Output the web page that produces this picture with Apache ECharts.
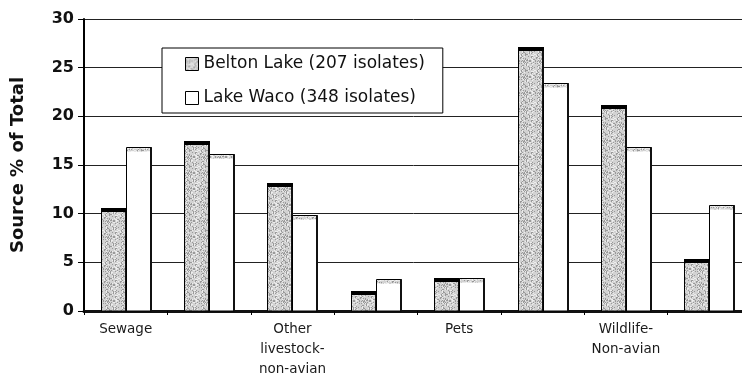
<!DOCTYPE html>
<html>
<head>
<meta charset="utf-8">
<script src="https://cdn.jsdelivr.net/npm/echarts@6/dist/echarts.min.js"></script>
<style>
  html, body { margin: 0; padding: 0; background: #fff; }
  #chart { width: 742px; height: 378px; }
</style>
</head>
<body>
<div id="chart"></div>
<script>
// Source categories (only every other group carries a printed label)
const categories = ['Sewage', ' ', 'Other\nlivestock-\nnon-avian', '  ', 'Pets', '   ', 'Wildlife-\nNon-avian', '    '];
const beltonName = 'Belton Lake (207 isolates)';
const wacoName = 'Lake Waco (348 isolates)';
// Source % of total isolates
const beltonValues = [10.6, 17.5, 13.1, 2.1, 3.4, 27.1, 21.2, 5.3];
const wacoValues = [16.8, 16.1, 9.9, 3.3, 3.4, 23.4, 16.8, 10.9];
const yMin = 0, yMax = 30, yStep = 5;

// Stippled grey fill, built from a small fixed tile
function makeStipple() {
  const c = document.createElement('canvas');
  c.width = 16; c.height = 16;
  const ctx = c.getContext('2d');
  ctx.fillStyle = '#d2d2d2';
  ctx.fillRect(0, 0, 16, 16);
  let s = 12345;
  for (let y = 0; y < 16; y++) {
    for (let x = 0; x < 16; x++) {
      s = (s * 1103515245 + 12345) & 0x7fffffff;
      const r = (s >> 8) % 100;
      if (r < 22) { ctx.fillStyle = '#9a9a9a'; ctx.fillRect(x, y, 1, 1); }
      else if (r < 40) { ctx.fillStyle = '#ededed'; ctx.fillRect(x, y, 1, 1); }
    }
  }
  return { image: c, repeat: 'repeat' };
}
const stipple = makeStipple();

// Bars with a dark 3-D style cap and right edge; side -1 = left of centre, +1 = right
function barRenderer(side, isGrey) {
  return function (params, api) {
    const idx = api.value(0);
    const v = api.value(1);
    const top = api.coord([idx, v]);
    const base = api.coord([idx, 0]);
    const band = api.size([1, 0])[0];
    const w = Math.round(band * 0.3);
    const cx = Math.round(top[0]);
    const x = side < 0 ? cx - w : cx;
    const y = Math.round(top[1]) + 0.5;
    const h = base[1] - y;
    const children = [
      { type: 'rect', shape: { x: x + 0.5, y: y, width: w, height: h },
        style: { fill: isGrey ? stipple : '#fff', stroke: '#000', lineWidth: 1 } },
      { type: 'rect', shape: { x: x + w - 1, y: y, width: 2, height: h },
        style: { fill: '#111' } }
    ];
    if (isGrey) {
      children.push({ type: 'rect', shape: { x: x, y: y - 0.5, width: w + 1, height: 4 },
        style: { fill: '#000' } });
    } else {
      children.push({ type: 'rect', shape: { x: x + 1, y: y + 1, width: w - 2, height: 3 },
        style: { fill: stipple } });
    }
    return { type: 'group', children: children };
  };
}

const chart = echarts.init(document.getElementById('chart'), null, { renderer: 'canvas' });
chart.setOption({
  animation: false,
  backgroundColor: '#fff',
  grid: { left: 84, top: 19, bottom: 67, right: -9, containLabel: false, outerBoundsMode: 'none' },
  legend: {
    orient: 'vertical',
    left: 162, top: 48,
    padding: [6, 18, 5, 23],
    backgroundColor: '#fff',
    borderColor: '#000',
    borderWidth: 1,
    itemWidth: 13, itemHeight: 13,
    itemGap: 14,
    z: 10,
    textStyle: { fontFamily: 'DejaVu Sans', fontSize: 17, color: '#111', lineHeight: 20 },
    data: [
      { name: beltonName, icon: 'rect', itemStyle: { color: stipple, borderColor: '#000', borderWidth: 1 } },
      { name: wacoName, icon: 'rect', itemStyle: { color: '#fff', borderColor: '#000', borderWidth: 1 } }
    ]
  },
  xAxis: {
    type: 'category',
    data: categories,
    boundaryGap: true,
    axisLine: { show: true, lineStyle: { color: '#111', width: 3 } },
    axisTick: { show: true, interval: 0, length: 4, lineStyle: { color: '#000', width: 1 } },
    axisLabel: {
      interval: 0, margin: 8,
      fontFamily: 'DejaVu Sans', fontSize: 13.5, color: '#1a1a1a', lineHeight: 20
    },
    splitLine: { show: false }
  },
  yAxis: {
    type: 'value',
    min: yMin, max: yMax, interval: yStep,
    name: 'Source % of Total',
    nameLocation: 'middle',
    nameGap: 57,
    nameTextStyle: { fontFamily: 'DejaVu Sans', fontWeight: 'bold', fontSize: 18, color: '#111' },
    axisLine: { show: true, lineStyle: { color: '#000', width: 2 } },
    axisTick: { show: true, length: 6, lineStyle: { color: '#000', width: 1 } },
    axisLabel: { margin: 10, fontFamily: 'DejaVu Sans', fontWeight: 'bold', fontSize: 16, color: '#111' },
    splitLine: { show: true, lineStyle: { color: '#222', width: 1 } }
  },
  series: [
    {
      name: beltonName,
      type: 'custom',
      itemStyle: { color: '#d2d2d2', borderColor: '#000', borderWidth: 1 },
      renderItem: barRenderer(-1, true),
      encode: { x: 0, y: 1 },
      data: beltonValues.map((v, i) => [i, v]),
      z: 3
    },
    {
      name: wacoName,
      type: 'custom',
      itemStyle: { color: '#fff', borderColor: '#000', borderWidth: 1 },
      renderItem: barRenderer(1, false),
      encode: { x: 0, y: 1 },
      data: wacoValues.map((v, i) => [i, v]),
      z: 3
    }
  ]
});
</script>
</body>
</html>
